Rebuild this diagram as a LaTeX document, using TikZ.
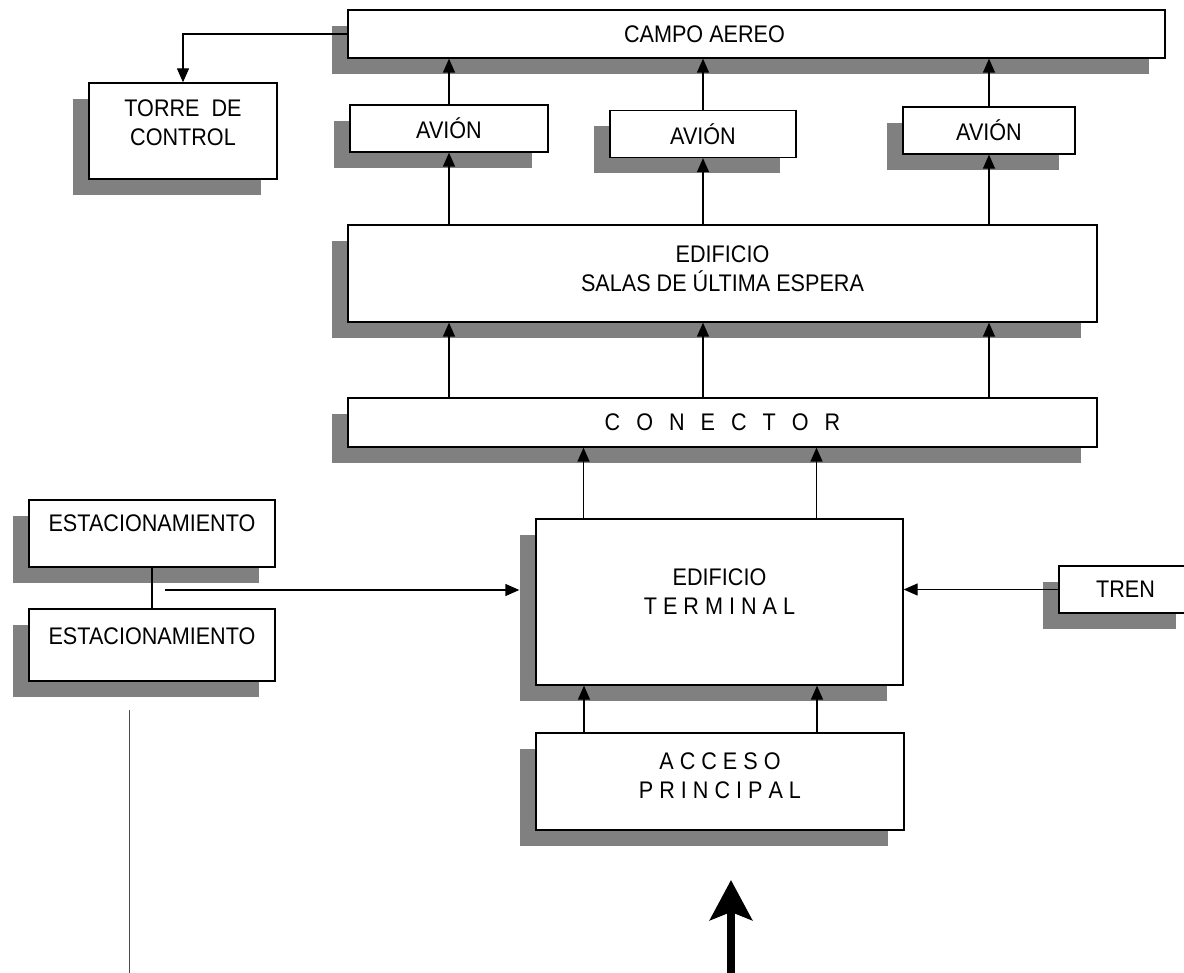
\documentclass[tikz,border=0pt]{standalone}
\usepackage{fontspec}
\setmainfont{Liberation Sans}[FakeStretch=0.9]
\usetikzlibrary{shapes,arrows,arrows.meta}
\usetikzlibrary{shadows}
\usetikzlibrary{calc}
\usetikzlibrary{positioning}
\newcommand{\hueco}{\hspace{16pt}}
\tikzstyle{caja} = [draw, fill=white, rectangle, line width=1.3pt, inner sep=0pt,
    align=center, font=\fontsize{24}{29}\selectfont,
    drop shadow={shadow xshift=-16pt, shadow yshift=-16pt, fill=black!50, opacity=1}]
\tikzstyle{texto} = [align=center, font=\fontsize{24}{29}\selectfont]
\tikzstyle{enlace} = [line width=1.3pt]

\begin{document}
\begin{tikzpicture}[x=1pt, y=-1pt, >={Triangle[length=14pt,width=12pt]}]
    \useasboundingbox (0,0) rectangle (1184,973);

    % We start by placing the blocks
    \node [caja, minimum width=817pt, minimum height=48pt,
        label={[texto,xshift=-52pt]center:CAMPO AEREO}] (campo) at (756.5,34) {};
    \node [caja, minimum width=188pt, minimum height=96pt,
        label={[texto,yshift=8pt]center:TORRE\ \ DE\\CONTROL}] (torre) at (183,131) {};
    \node [caja, minimum width=198pt, minimum height=47pt] (avion1) at (449,128.5) {AVIÓN};
    \node [caja, minimum width=186pt, minimum height=47pt] (avion2) at (703,134) {AVIÓN};
    \node [caja, minimum width=172pt, minimum height=47pt] (avion3) at (989,130.5) {AVIÓN};
    \node [caja, minimum width=749pt, minimum height=97pt,
        label={[texto,yshift=5pt]center:EDIFICIO\\SALAS DE ÚLTIMA ESPERA}] (salas) at (722.5,273.5) {};
    \node [caja, minimum width=749pt, minimum height=49pt] (conector) at (722.5,422.5)
        {C\hueco O\hueco N\hueco E\hueco C\hueco T\hueco O\hueco R};
    \node [caja, minimum width=367pt, minimum height=166pt,
        label={[texto,yshift=10pt]center:EDIFICIO\\T E R M I N A L}] (terminal) at (719.5,602) {};
    \node [caja, minimum width=368pt, minimum height=97pt,
        label={[texto,yshift=6pt]center:A C C E S O\\P R I N C I P A L}] (acceso) at (720,781.5) {};
    \node [caja, minimum width=246pt, minimum height=67pt,
        label={[texto,yshift=10pt]center:ESTACIONAMIENTO}] (estac1) at (152,533.5) {};
    \node [caja, minimum width=246pt, minimum height=72pt,
        label={[texto,yshift=9pt]center:ESTACIONAMIENTO}] (estac2) at (152,645) {};
    \node [caja, minimum width=133pt, minimum height=47pt] (tren) at (1125.5,589.5) {TREN};

    % Free ends
    \coordinate (salidaEst) at (165,590);
    \coordinate (lineaA) at (129,710);
    \coordinate (lineaB) at (129,973);
    \coordinate (flechaPie) at (731,973);
    \coordinate (flechaPunta) at (731,880);

    % Once the nodes are placed, connecting them is easy.
    \draw [enlace,->] (campo.west) -| (torre);
    \foreach \av in {avion1,avion2,avion3} {
        \draw [enlace,->] (\av) -- (\av |- campo.south);
        \draw [enlace,->] (\av |- salas.north) -- (\av);
        \draw [enlace,->] (\av |- conector.north) -- (\av |- salas.south);
    }
    \foreach \dx in {-136,97} {
        \draw [enlace,->] ([xshift=\dx pt]terminal.north) -- ([xshift=\dx pt]terminal.north |- conector.south);
        \draw [enlace,->] ([xshift=\dx pt]acceso.north) -- ([xshift=\dx pt]acceso.north |- terminal.south);
    }
    \draw [enlace] (estac1) -- (estac2);
    \draw [enlace,->] (salidaEst) -- ([xshift=-16pt]salidaEst -| terminal.west);
    \draw [enlace,->] (tren.west) -- (tren.west -| terminal.east);
    \draw [line width=0.8pt, black!70] (lineaA) -- (lineaB);
    \draw [line width=8pt, -{Stealth[length=40pt,width=42pt,inset=8pt]}] (flechaPie) -- (flechaPunta);
\end{tikzpicture}
\end{document}
